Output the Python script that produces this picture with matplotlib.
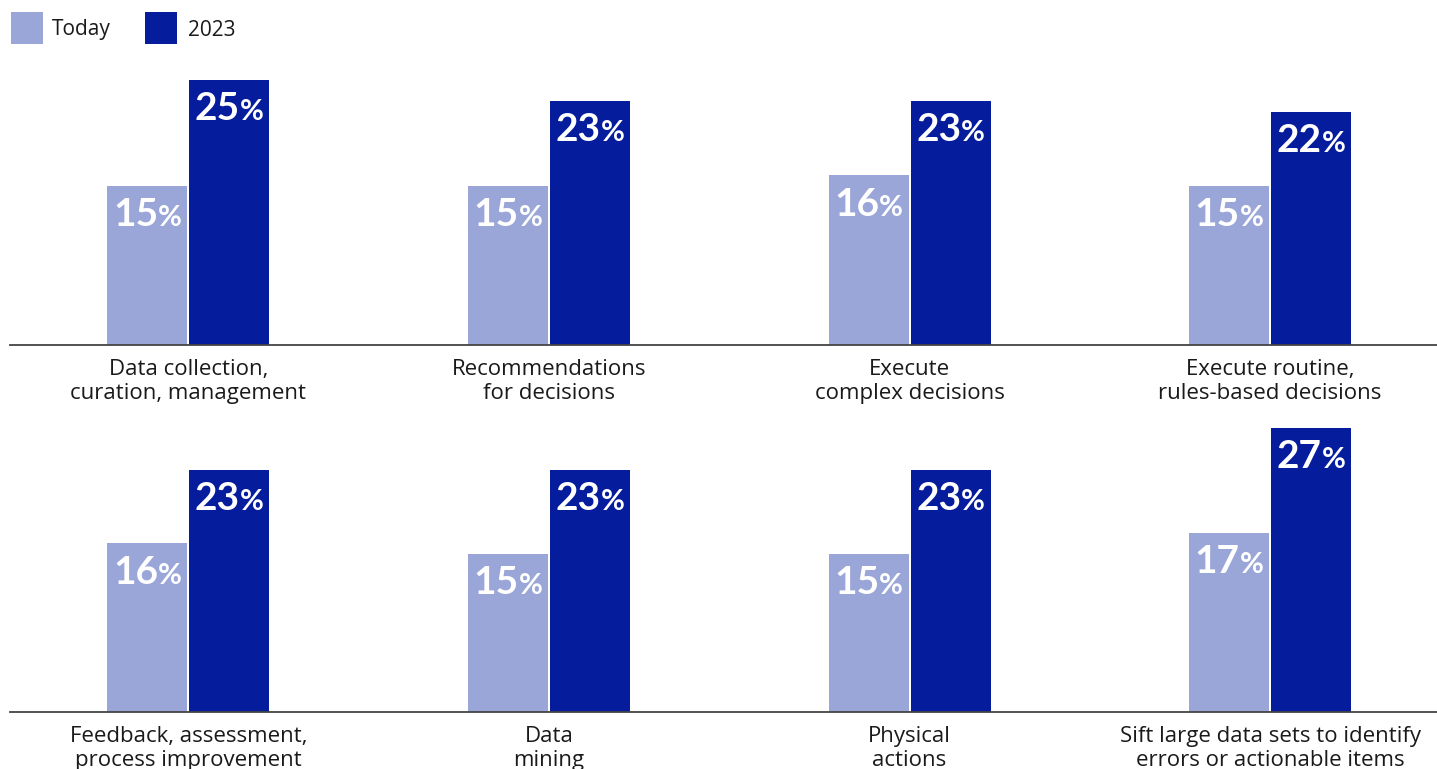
import matplotlib.pyplot as plt
from matplotlib.patches import Rectangle
from matplotlib.transforms import offset_copy

plt.rcParams['font.family'] = ['Open Sans', 'DejaVu Sans']

top_tasks = ["Data collection,\ncuration, management", "Recommendations\nfor decisions",
             "Execute\ncomplex decisions", "Execute routine,\nrules-based decisions"]
top_today = [15, 15, 16, 15]
top_2023 = [25, 23, 23, 22]

bottom_tasks = ["Feedback, assessment,\nprocess improvement", "Data\nmining",
                "Physical\nactions", "Sift large data sets to identify\nerrors or actionable items"]
bottom_today = [16, 15, 15, 17]
bottom_2023 = [23, 23, 23, 27]

series_names = ["Today", "2023"]
light = "#9ba6d8"
dark = "#051c9c"
text_col = "#1a1a1a"

W, H, DPI = 1437, 769, 100
fig = plt.figure(figsize=(W / DPI, H / DPI), dpi=DPI)

bar_w = 0.222
off = 0.1137
labels = []


def draw_row(base_px, height_px, tasks, today, later):
    ax = fig.add_axes([10 / W, (H - base_px) / H, 1427 / W, height_px / H])
    xs = range(len(tasks))
    ax.bar([x - off for x in xs], today, bar_w, color=light, zorder=1)
    ax.bar([x + off for x in xs], later, bar_w, color=dark, zorder=1)
    for x, a, b in zip(xs, today, later):
        labels.append((ax, x - off, a))
        labels.append((ax, x + off, b))
    ax.set_xlim(-0.495, 3.463)
    ax.set_ylim(0, 30)
    ax.set_xticks(list(xs))
    ax.set_xticklabels(tasks, fontsize=16, color=text_col, linespacing=1.2)
    ax.tick_params(axis="x", length=0, pad=10)
    ax.set_yticks([])
    for s in ["top", "left", "right"]:
        ax.spines[s].set_visible(False)
    ax.spines["bottom"].set_color("#444444")
    ax.spines["bottom"].set_linewidth(1.3)
    ax.spines["bottom"].set_zorder(2)
    ax.patch.set_alpha(0)
    return ax


draw_row(345, 318, top_tasks, top_today, top_2023)
draw_row(712, 316, bottom_tasks, bottom_today, bottom_2023)

fig.canvas.draw()
renderer = fig.canvas.get_renderer()

# value labels: big bold number followed by a smaller percent sign
for ax, x, val in labels:
    num = ax.text(0, 0, str(val), fontsize=28, fontweight="bold", color="white",
                  ha="left", va="baseline", family=["Lato"])
    pct = ax.text(0, 0, "%", fontsize=21, fontweight="bold", color="white",
                  ha="left", va="baseline", family=["Lato"])
    w1 = num.get_window_extent(renderer).width * 72 / DPI
    w2 = pct.get_window_extent(renderer).width * 72 / DPI
    start = -(w1 + w2) / 2
    num.set_position((x, val))
    pct.set_position((x, val))
    num.set_transform(offset_copy(ax.transData, fig=fig, x=start, y=-29, units="points"))
    pct.set_transform(offset_copy(ax.transData, fig=fig, x=start + w1, y=-29, units="points"))

# legend at top left
for name, col, x0, tx in [(series_names[0], light, 11, 52), (series_names[1], dark, 145, 188)]:
    fig.add_artist(Rectangle((x0 / W, (H - 44) / H), 32 / W, 32 / H,
                             transform=fig.transFigure, color=col, lw=0))
    fig.text(tx / W, (H - 30) / H, name, fontsize=15, color=text_col, va="center", ha="left")

fig.savefig("out.png", dpi=DPI)
